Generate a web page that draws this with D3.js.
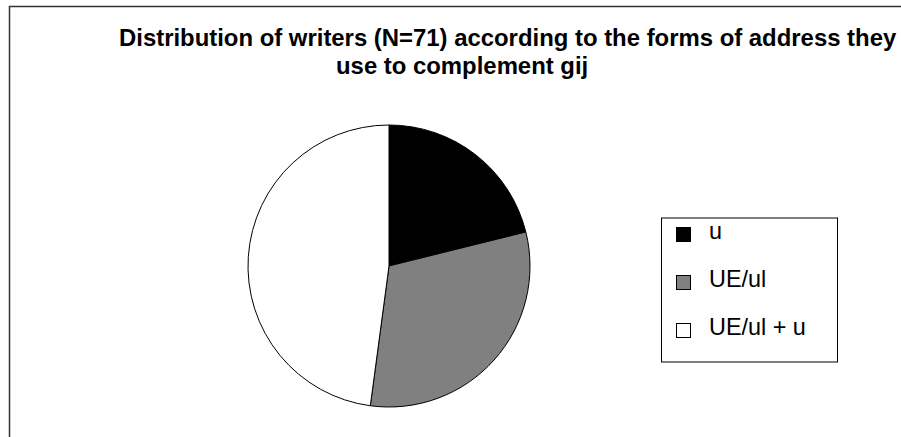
<!DOCTYPE html>
<html>
<head>
<meta charset="utf-8">
<script src="https://cdn.jsdelivr.net/npm/d3@7"></script>
<style>
  body { margin: 0; background: #fff; }
  svg { display: block; font-family: "Liberation Sans", Arial, sans-serif; }
</style>
</head>
<body>
<div id="chart"></div>
<script>
// chart data
var categories = ["u", "UE/ul", "UE/ul + u"];
var writers = [15, 22, 34];
var fills = ["#000000", "#808080", "#ffffff"];
var titleLines = [
  "Distribution of writers (N=71) according to the forms of address they",
  "use to complement gij"
];

var width = 901, height = 437;

var svg = d3.select("#chart").append("svg")
    .attr("width", width)
    .attr("height", height);

svg.append("rect")
    .attr("width", width)
    .attr("height", height)
    .attr("fill", "#fff");

// chart frame (runs off the right and bottom edge)
svg.append("rect")
    .attr("x", 9.5)
    .attr("y", 6.5)
    .attr("width", width + 20)
    .attr("height", height + 20)
    .attr("fill", "none")
    .attr("stroke", "#333")
    .attr("stroke-width", 1.5);

// title
var titleX = [119, 336];
svg.selectAll("text.title")
    .data(titleLines)
  .enter().append("text")
    .attr("class", "title")
    .attr("x", function(d, i) { return titleX[i]; })
    .attr("y", function(d, i) { return 45.5 + i * 28.6; })
    .attr("font-size", "23.9px")
    .attr("font-weight", "bold")
    .attr("fill", "#000")
    .text(function(d) { return d; });

// pie
var radius = 141;
var pie = d3.pie().sort(null).value(function(d) { return d; });
var arc = d3.arc().innerRadius(0).outerRadius(radius);

var g = svg.append("g")
    .attr("transform", "translate(389,266)");

g.selectAll("path")
    .data(pie(writers))
  .enter().append("path")
    .attr("d", arc)
    .attr("fill", function(d, i) { return fills[i]; })
    .attr("stroke", "#000")
    .attr("stroke-width", 1);

// legend
var legend = svg.append("g")
    .attr("transform", "translate(661,217.5)");

legend.append("rect")
    .attr("x", 0.5)
    .attr("y", 0.5)
    .attr("width", 176)
    .attr("height", 144)
    .attr("fill", "#fff")
    .attr("stroke", "#000")
    .attr("stroke-width", 1);

var item = legend.selectAll("g.item")
    .data(categories)
  .enter().append("g")
    .attr("class", "item")
    .attr("transform", function(d, i) { return "translate(0," + (i * 48) + ")"; });

item.append("rect")
    .attr("x", 15.5)
    .attr("y", 10)
    .attr("width", 14)
    .attr("height", 14)
    .attr("fill", function(d, i) { return fills[i]; })
    .attr("stroke", "#000")
    .attr("stroke-width", 1);

item.append("text")
    .attr("x", 48)
    .attr("y", 21.5)
    .attr("font-size", "23.4px")
    .attr("fill", "#000")
    .text(function(d) { return d; });
</script>
</body>
</html>
